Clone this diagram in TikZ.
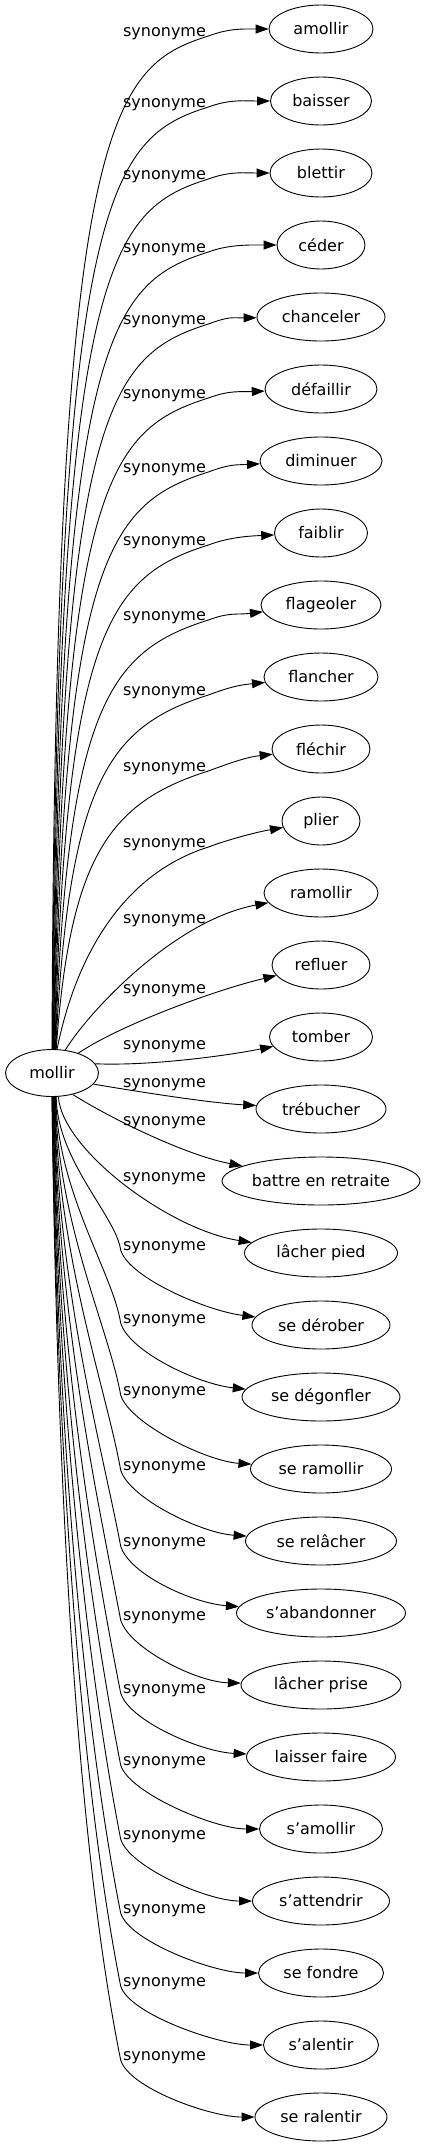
\documentclass[tikz,border=0pt]{standalone}
\usepackage{fontspec}
\setmainfont{DejaVu Sans}
\usetikzlibrary{shapes.geometric, arrows.meta}

\begin{document}
\begin{tikzpicture}[x=1pt, y=1pt, line width=0.9pt,
    term/.style={draw, ellipse, minimum height=48pt, inner sep=0pt, font=\fontsize{16pt}{19pt}\selectfont},
    relname/.style={anchor=base, inner sep=0pt, inner xsep=2pt, font=\fontsize{16pt}{19pt}\selectfont},
    link/.style={-{Triangle[length=13pt, width=9pt]}}]
    \useasboundingbox (0, 0) rectangle (426, -2147);

    \node[term, minimum width=93pt, minimum height=47pt] at (52, -1073) (M) {mollir};

    \node[term, minimum width=104pt] at (321, -29) (T1) {amollir};
    \node[term, minimum width=101pt] at (321, -101) (T2) {baisser};
    \node[term, minimum width=102pt] at (321, -173) (T3) {blettir};
    \node[term, minimum width=88pt] at (321, -245) (T4) {céder};
    \node[term, minimum width=128pt] at (321, -317) (T5) {chanceler};
    \node[term, minimum width=112pt] at (321, -389) (T6) {défaillir};
    \node[term, minimum width=122pt] at (321, -461) (T7) {diminuer};
    \node[term, minimum width=93pt] at (321, -533) (T8) {faiblir};
    \node[term, minimum width=120pt] at (321, -605) (T9) {flageoler};
    \node[term, minimum width=114pt] at (321, -677) (T10) {flancher};
    \node[term, minimum width=98pt] at (321, -749) (T11) {fléchir};
    \node[term, minimum width=78pt] at (321, -821) (T12) {plier};
    \node[term, minimum width=114pt] at (321, -893) (T13) {ramollir};
    \node[term, minimum width=98pt] at (321, -965) (T14) {refluer};
    \node[term, minimum width=103pt] at (321, -1037) (T15) {tomber};
    \node[term, minimum width=130pt] at (321, -1109) (T16) {trébucher};
    \node[term, minimum width=198pt] at (321, -1181) (T17) {battre en retraite};
    \node[term, minimum width=153pt] at (321, -1253) (T18) {lâcher pied};
    \node[term, minimum width=138pt] at (321, -1325) (T19) {se dérober};
    \node[term, minimum width=158pt] at (321, -1397) (T20) {se dégonfler};
    \node[term, minimum width=141pt] at (321, -1469) (T21) {se ramollir};
    \node[term, minimum width=151pt] at (321, -1541) (T22) {se relâcher};
    \node[term, minimum width=169pt] at (321, -1613) (T23) {s'abandonner};
    \node[term, minimum width=160pt] at (321, -1685) (T24) {lâcher prise};
    \node[term, minimum width=149pt] at (321, -1757) (T25) {laisser faire};
    \node[term, minimum width=123pt] at (321, -1829) (T26) {s'amollir};
    \node[term, minimum width=137pt] at (321, -1901) (T27) {s'attendrir};
    \node[term, minimum width=125pt] at (321, -1973) (T28) {se fondre};
    \node[term, minimum width=115pt] at (321, -2045) (T29) {s'alentir};
    \node[term, minimum width=132pt] at (321, -2117) (T30) {se ralentir};

    \node[relname] at (164.5, -36) (E1) {synonyme};
    \node[relname] at (164.5, -107) (E2) {synonyme};
    \node[relname] at (164.5, -179) (E3) {synonyme};
    \node[relname] at (164.5, -252) (E4) {synonyme};
    \node[relname] at (164.5, -324) (E5) {synonyme};
    \node[relname] at (164.5, -398) (E6) {synonyme};
    \node[relname] at (164.5, -472) (E7) {synonyme};
    \node[relname] at (164.5, -545) (E8) {synonyme};
    \node[relname] at (164.5, -620) (E9) {synonyme};
    \node[relname] at (164.5, -695) (E10) {synonyme};
    \node[relname] at (164.5, -771) (E11) {synonyme};
    \node[relname] at (164.5, -847) (E12) {synonyme};
    \node[relname] at (164.5, -923) (E13) {synonyme};
    \node[relname] at (164.5, -993) (E14) {synonyme};
    \node[relname] at (164.5, -1049) (E15) {synonyme};
    \node[relname] at (164.5, -1087) (E16) {synonyme};
    \node[relname] at (164.5, -1125) (E17) {synonyme};
    \node[relname] at (164.5, -1181) (E18) {synonyme};
    \node[relname] at (164.5, -1250) (E19) {synonyme};
    \node[relname] at (164.5, -1323) (E20) {synonyme};
    \node[relname] at (164.5, -1395) (E21) {synonyme};
    \node[relname] at (164.5, -1470) (E22) {synonyme};
    \node[relname] at (164.5, -1546) (E23) {synonyme};
    \node[relname] at (164.5, -1620) (E24) {synonyme};
    \node[relname] at (164.5, -1693) (E25) {synonyme};
    \node[relname] at (164.5, -1765) (E26) {synonyme};
    \node[relname] at (164.5, -1839) (E27) {synonyme};
    \node[relname] at (164.5, -1913) (E28) {synonyme};
    \node[relname] at (164.5, -1986) (E29) {synonyme};
    \node[relname] at (164.5, -2060) (E30) {synonyme};

    \draw[link] (M.90) .. controls (55, -121) and (110, -67) .. (E1.base east) .. controls (230, -28) and (244, -29) .. (T1);
    \draw[link] (M.89) .. controls (56.5, -192) and (110, -138) .. (E2.base east) .. controls (230, -99) and (245.5, -101) .. (T2);
    \draw[link] (M.88) .. controls (58, -264) and (110, -210) .. (E3.base east) .. controls (230, -171) and (245, -173) .. (T3);
    \draw[link] (M.87) .. controls (59.5, -337) and (110, -283) .. (E4.base east) .. controls (230, -244) and (252, -245) .. (T4);
    \draw[link] (M.86) .. controls (61, -409) and (110, -355) .. (E5.base east) .. controls (230, -316) and (232, -318) .. (T5);
    \draw[link] (M.85) .. controls (62.5, -483) and (110, -429) .. (E6.base east) .. controls (230, -390) and (240, -392) .. (T6);
    \draw[link] (M.84) .. controls (64, -557) and (110, -503) .. (E7.base east) .. controls (230, -464) and (235, -465) .. (T7);
    \draw[link] (M.83) .. controls (65.5, -630) and (110, -576) .. (E8.base east) .. controls (230, -537) and (249.5, -536) .. (T8);
    \draw[link] (M.82) .. controls (67, -705) and (110, -651) .. (E9.base east) .. controls (230, -612) and (236, -615) .. (T9);
    \draw[link] (M.81) .. controls (68.5, -780) and (110, -726) .. (E10.base east) .. controls (230, -687) and (239, -685) .. (T10);
    \draw[link] (M.80) .. controls (70, -856) and (110, -802) .. (E11.base east) .. controls (230, -763) and (247, -757) .. (T11);
    \draw[link] (M.78) .. controls (75, -960) and (120, -875) .. (E12.base east) .. controls (230, -839) and (257, -832) .. (T12);
    \draw[link] (M.60) .. controls (90, -1010) and (175, -920) .. (T13);
    \draw[link] (M.37) .. controls (120, -1025) and (215, -990) .. (T14);
    \draw[link] (M.12) .. controls (150, -1066) and (225, -1056) .. (T15);
    \draw[link] (M.-15) .. controls (140, -1092) and (210, -1103) .. (T16);
    \draw[link] (M.-46) .. controls (110, -1118) and (185, -1155) .. (T17);
    \draw[link] (M.-75) .. controls (62, -1150) and (170, -1230) .. (T18);
    \draw[link] (M.-80) .. controls (57, -1161) and (116, -1216) .. (E19.base west) .. controls (129, -1278) and (207, -1311) .. (T19);
    \draw[link] (M.-81) .. controls (57, -1192) and (113, -1273) .. (E20.base west) .. controls (129, -1351) and (197, -1384) .. (T20);
    \draw[link] (M.-82) .. controls (57, -1222) and (109, -1329) .. (E21.base west) .. controls (129, -1423) and (205.5, -1461) .. (T21);
    \draw[link] (M.-83) .. controls (57, -1254) and (106, -1388) .. (E22.base west) .. controls (129, -1498) and (200.5, -1533) .. (T22);
    \draw[link] (M.-84) .. controls (57, -1286) and (102, -1447) .. (E23.base west) .. controls (129, -1574) and (191.5, -1603) .. (T23);
    \draw[link] (M.-85) .. controls (57, -1317) and (99, -1505) .. (E24.base west) .. controls (129, -1648) and (196, -1682) .. (T24);
    \draw[link] (M.-86) .. controls (57, -1347) and (95, -1562) .. (E25.base west) .. controls (129, -1721) and (201.5, -1752) .. (T25);
    \draw[link] (M.-87) .. controls (57, -1378) and (92, -1618) .. (E26.base west) .. controls (129, -1793) and (214.5, -1829) .. (T26);
    \draw[link] (M.-88) .. controls (57, -1409) and (89, -1676) .. (E27.base west) .. controls (129, -1867) and (207.5, -1901) .. (T27);
    \draw[link] (M.-89) .. controls (57, -1440) and (85, -1733) .. (E28.base west) .. controls (129, -1941) and (213.5, -1973) .. (T28);
    \draw[link] (M.-90) .. controls (57, -1470) and (82, -1790) .. (E29.base west) .. controls (129, -2014) and (218.5, -2045) .. (T29);
    \draw[link] (M.-90) .. controls (57, -1502) and (78, -1848) .. (E30.base west) .. controls (129, -2088) and (210, -2117) .. (T30);
\end{tikzpicture}
\end{document}
